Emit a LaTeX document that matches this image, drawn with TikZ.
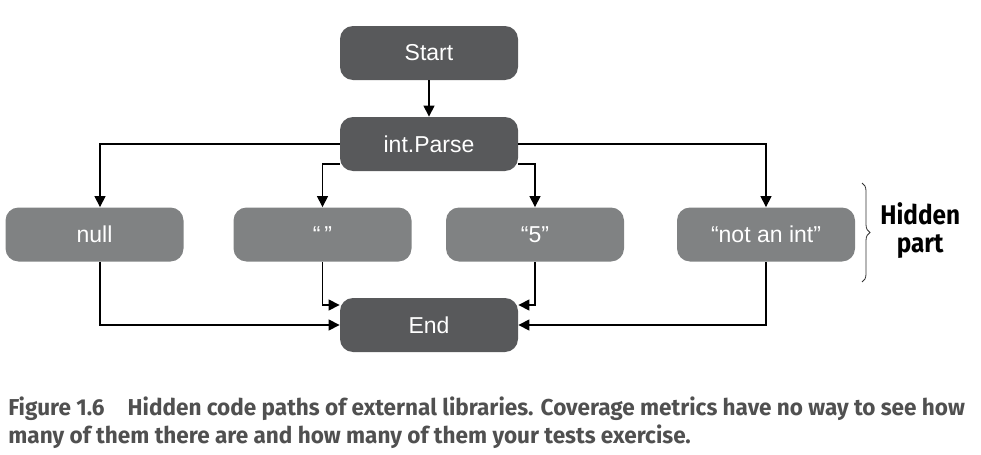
\documentclass[tikz,border=0pt]{standalone}
\usepackage{fontspec}
\setmainfont{Liberation Sans}
\newfontfamily\capfont[FakeStretch=0.98]{Fira Sans}
\newfontfamily\notefont[FakeStretch=0.9]{Fira Sans}
\usetikzlibrary{%
    decorations.pathreplacing,%
    arrows.meta
}
\definecolor{darkbox}{HTML}{58595B}
\definecolor{lightbox}{HTML}{808283}
\definecolor{captext}{HTML}{505050}

\begin{document}
\begin{tikzpicture}[x=0.5pt,y=-0.5pt,
    flow/.style={rounded corners=6.5pt,minimum width=89pt,minimum height=27pt,
        inner sep=0pt,text=white,font={\fontsize{11.5}{13}\selectfont}},
    mainbox/.style={flow,fill=darkbox},
    hiddenbox/.style={flow,fill=lightbox},
    link/.style={-{Triangle[length=5.5pt,width=5.5pt]},line width=0.6pt}]
\useasboundingbox (0,0) rectangle (981,455);
% main path
\node[mainbox] (start) at (429,53) {Start};
\node[mainbox] (parse) at (429,144) {int.Parse};
\node[mainbox] (end) at (429,325) {End};
% hidden branches
\node[hiddenbox] (null) at (94.5,234.5) {null};
\node[hiddenbox] (empty) at (322.5,234.5) {\textquotedblleft\,\textquotedblright};
\node[hiddenbox] (five) at (535,234.5) {\textquotedblleft 5\textquotedblright};
\node[hiddenbox] (notint) at (766,234.5) {\textquotedblleft not an int\textquotedblright};

\draw[link] (start) -- (parse);
\draw[link] (parse.west) -| ([xshift=2.75pt]null.north);
\draw[link] ([yshift=-10pt]parse.west) -| (empty.north);
\draw[link] ([yshift=-10pt]parse.east) -| (five.north);
\draw[link] (parse.east) -| (notint.north);
\draw[link] ([xshift=2.75pt]null.south) |- (end.west);
\draw[link] (empty.south) |- ([yshift=10pt]end.west);
\draw[link] (five.south) |- ([yshift=10pt]end.east);
\draw[link] (notint.south) |- (end.east);

% brace
\draw[thin,black!80,decorate,decoration={brace,amplitude=4pt}]
    (862,183) coordinate (braceA) -- (862,282) coordinate (braceB);
\node[font={\notefont\bfseries\fontsize{13.5}{14}\selectfont},align=center,
    anchor=west,inner sep=0pt] (hidden) at (880,231) {Hidden\\part};

% caption
\node[anchor=north west,align=left,inner sep=0pt,text=captext,
    font={\capfont\bfseries\fontsize{11.5}{14}\selectfont}] (caption) at (8,396)
    {Figure 1.6\quad Hidden code paths of external libraries. Coverage metrics have no way to see how\\
     many of them there are and how many of them your tests exercise.};
\end{tikzpicture}
\end{document}
